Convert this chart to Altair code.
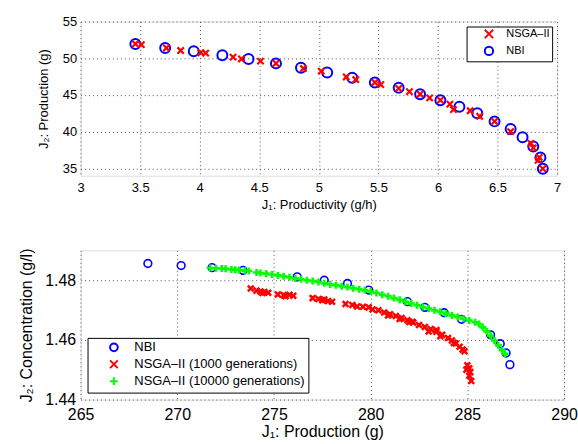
import altair as alt
import pandas as pd

# ---------------- top panel data ----------------
top_nbi_x = [3.46, 3.71, 3.95, 4.19, 4.41, 4.64, 4.85, 5.07, 5.28, 5.47, 5.67,
             5.85, 6.02, 6.18, 6.33, 6.475, 6.61, 6.71, 6.80, 6.86, 6.88]
top_nbi_y = [51.93, 51.4, 50.95, 50.4, 49.9, 49.3, 48.7, 48.07, 47.35, 46.7, 45.99,
             45.1, 44.28, 43.4, 42.5, 41.4, 40.36, 39.23, 37.97, 36.5, 34.96]

top_nsga_x = [3.46, 3.51, 3.72, 3.84, 4.01, 4.05, 4.28, 4.35, 4.51, 4.64, 4.87,
              5.02, 5.23, 5.31, 5.47, 5.52, 5.67, 5.76, 5.85, 5.93, 6.02, 6.10,
              6.13, 6.27, 6.35, 6.475, 6.61, 6.78, 6.80, 6.85, 6.84, 6.88]
top_nsga_y = [51.95, 51.85, 51.4, 51.05, 50.75, 50.7, 50.15, 49.9, 49.6, 49.3, 48.6,
              48.25, 47.45, 47.1, 46.7, 46.4, 45.9, 45.45, 45.1, 44.6, 44.3, 43.75,
              43.0, 42.85, 42.1, 41.4, 40.0, 38.4, 37.8, 36.5, 36.1, 34.96]

# ---------------- bottom panel data ----------------
bot_nbi_x = [268.48, 270.2, 271.8, 273.4, 276.2, 277.6, 278.8, 279.9, 281.9,
             282.8, 283.8, 284.7, 286.2, 286.7, 287.0, 287.2]
bot_nbi_y = [1.4856, 1.4849, 1.4842, 1.4833, 1.4811, 1.4800, 1.4789, 1.4767, 1.4728,
             1.4709, 1.4691, 1.4669, 1.4617, 1.4587, 1.4556, 1.4517]

bot_g1000_x = [273.8, 274.1, 274.3, 274.5, 274.7, 274.4, 275.2, 275.5, 275.8, 276.0,
               275.6, 277.0, 277.3, 277.6, 277.8, 278.0, 277.5, 278.7, 279.3, 279.6,
               279.9, 280.1, 280.4, 280.7, 281.0, 281.3, 281.6, 281.9, 282.2, 282.5,
               282.8, 283.1, 283.4, 283.7, 284.0, 284.2, 284.4, 284.6, 284.75, 284.85,
               285.0, 285.1, 284.95, 285.15, 285.1, 285.2, 280.9, 281.5, 282.0, 283.0,
               283.6, 284.3, 279.05, 282.15, 283.4]
bot_g1000_y = [1.4772, 1.4765, 1.4762, 1.4760, 1.4758, 1.4757, 1.4752, 1.4750, 1.4751, 1.4748,
               1.4746, 1.4740, 1.4737, 1.4735, 1.4730, 1.4728, 1.4733, 1.4720, 1.4712, 1.4711,
               1.4709, 1.4702, 1.4699, 1.4692, 1.4686, 1.4680, 1.4673, 1.4666, 1.4658, 1.4650,
               1.4643, 1.4636, 1.4627, 1.4617, 1.4606, 1.4598, 1.4588, 1.4577, 1.4568, 1.4562,
               1.4515, 1.4505, 1.4500, 1.4492, 1.4480, 1.4462, 1.4682, 1.4670, 1.4660, 1.4628,
               1.4612, 1.4590, 1.4717, 1.4661, 1.4633]

bot_g10000_x = [271.7, 272.0, 272.3, 272.5, 272.8, 273.0, 273.2, 273.5, 273.7, 274.1,
                274.3, 274.6, 274.9, 275.2, 275.5, 275.8, 276.1, 276.4, 276.7, 277.0,
                277.3, 277.6, 277.9, 278.2, 278.5, 278.8, 279.1, 279.4, 279.7, 280.0,
                280.3, 280.6, 280.9, 281.2, 281.5, 281.8, 282.1, 282.4, 282.7, 283.0,
                283.3, 283.6, 283.9, 284.2, 284.5, 284.8, 285.1, 285.4, 285.6, 285.8,
                286.0, 286.2, 286.4, 286.6, 286.8, 286.95]
bot_g10000_y = [1.4841, 1.4840, 1.4839, 1.4838, 1.4836, 1.4835, 1.4834, 1.4832, 1.4831, 1.4826,
                1.4824, 1.4822, 1.4819, 1.4816, 1.4813, 1.4810, 1.4806, 1.4803, 1.4800, 1.4797,
                1.4794, 1.4790, 1.4786, 1.4783, 1.4780, 1.4777, 1.4773, 1.4770, 1.4766, 1.4762,
                1.4757, 1.4751, 1.4746, 1.4740, 1.4734, 1.4728, 1.4722, 1.4716, 1.4710, 1.4705,
                1.4699, 1.4694, 1.4688, 1.4682, 1.4677, 1.4671, 1.4665, 1.4659, 1.4653, 1.4642,
                1.4628, 1.4614, 1.4598, 1.4582, 1.4565, 1.4553]

top_labels = ["NSGA\u2013II", "NBI"]
bot_labels = ["NBI", "NSGA\u2013II (1000 generations)", "NSGA\u2013II (10000 generations)"]

CIRCLE = "circle"
XSHAPE = "M-1,-1L1,1M-1,1L1,-1"
PLUS = "M-1,0L1,0M0,-1L0,1"
FONT = "Liberation Sans, DejaVu Sans, sans-serif"

top_nbi = pd.DataFrame({"x": top_nbi_x, "y": top_nbi_y, "s": top_labels[1]})
top_nsga = pd.DataFrame({"x": top_nsga_x, "y": top_nsga_y, "s": top_labels[0]})
bot_nbi = pd.DataFrame({"x": bot_nbi_x, "y": bot_nbi_y, "s": bot_labels[0]})
bot_r = pd.DataFrame({"x": bot_g1000_x, "y": bot_g1000_y, "s": bot_labels[1]})
bot_g = pd.DataFrame({"x": bot_g10000_x, "y": bot_g10000_y, "s": bot_labels[2]})

grid = dict(grid=True, gridColor="#555", gridDash=[1, 3], gridWidth=1, ticks=False,
            domain=False, labelColor="black", titleColor="black", labelFont=FONT,
            titleFont=FONT, titleFontWeight="normal", titleBaseline="middle",
            labelFlush=False, labelOverlap=False)

# ---------------- top chart ----------------
tx = alt.X("x:Q", scale=alt.Scale(domain=[3, 7], nice=False, zero=False),
           axis=alt.Axis(values=[3, 3.5, 4, 4.5, 5, 5.5, 6, 6.5, 7], format="~g",
                         title="J\u2081: Productivity (g/h)", labelFontSize=13,
                         titleFontSize=13, labelPadding=6, titleY=29, **grid))
ty = alt.Y("y:Q", scale=alt.Scale(domain=[34, 55], nice=False, zero=False),
           axis=alt.Axis(values=[35, 40, 45, 50, 55], title="J\u2082: Production (g)",
                         labelFontSize=13, titleFontSize=13, labelPadding=4,
                         titleX=-37, **grid))
tcolor = alt.Color("s:N", scale=alt.Scale(domain=top_labels, range=["#ff0000", "#0000ff"]),
                   legend=alt.Legend(title=None, orient="top-right", offset=5,
                                     strokeColor="black", fillColor="white", padding=2,
                                     symbolOffset=15, labelOffset=12, labelFontSize=11,
                                     labelFont=FONT, symbolSize=70, symbolStrokeWidth=2,
                                     rowPadding=0, labelLimit=400))
tshape = alt.Shape("s:N", scale=alt.Scale(domain=top_labels, range=[XSHAPE, CIRCLE]),
                   legend=alt.Legend(title=None, orient="top-right"))

top_c = alt.Chart(top_nbi).mark_point(filled=False, size=100, strokeWidth=2, opacity=1).encode(
    x=tx, y=ty, color=tcolor, shape=tshape)
top_r = alt.Chart(top_nsga).mark_point(filled=False, size=40, strokeWidth=2.2, opacity=1).encode(
    x=tx, y=ty, color=tcolor, shape=tshape)
top = alt.layer(top_c, top_r).properties(width=479, height=155)

# ---------------- bottom chart ----------------
bx = alt.X("x:Q", scale=alt.Scale(domain=[265, 290], nice=False, zero=False),
           axis=alt.Axis(values=[265, 270, 275, 280, 285, 290], title="J\u2081: Production (g)",
                         labelFontSize=16, titleFontSize=16, labelPadding=7,
                         titleY=32, **grid))
by = alt.Y("y:Q", scale=alt.Scale(domain=[1.44, 1.49], nice=False, zero=False),
           axis=alt.Axis(values=[1.44, 1.46, 1.48], format=".2f",
                         title="J\u2082: Concentration (g/l)", labelFontSize=16,
                         titleFontSize=16, labelPadding=5, titleX=-54, **grid))
bcolor = alt.Color("s:N", scale=alt.Scale(domain=bot_labels,
                                           range=["#0000ff", "#ff0000", "#00ff00"]),
                   legend=alt.Legend(title=None, orient="bottom-left", offset=7,
                                     strokeColor="black", fillColor="white", padding=3,
                                     symbolOffset=17, labelOffset=14, labelFontSize=13,
                                     labelFont=FONT, symbolSize=60, symbolStrokeWidth=2,
                                     rowPadding=0, labelLimit=400))
bshape = alt.Shape("s:N", scale=alt.Scale(domain=bot_labels, range=[CIRCLE, XSHAPE, PLUS]),
                   legend=alt.Legend(title=None, orient="bottom-left"))

b1 = alt.Chart(bot_nbi).mark_point(filled=False, size=60, strokeWidth=1.6, opacity=1).encode(
    x=bx, y=by, color=bcolor, shape=bshape)
b2 = alt.Chart(bot_r).mark_point(filled=False, size=34, strokeWidth=2.5, opacity=1).encode(
    x=bx, y=by, color=bcolor, shape=bshape)
b3 = alt.Chart(bot_g).mark_point(filled=False, size=50, strokeWidth=2.6, opacity=1).encode(
    x=bx, y=by, color=bcolor, shape=bshape)
bottom = alt.layer(b1, b2, b3).properties(width=486, height=150)

chart = alt.vconcat(top, bottom, spacing=75, bounds="flush").resolve_scale(
    color="independent", shape="independent", x="independent", y="independent"
).properties(
    padding={"left": 18, "top": 13.5, "right": 0, "bottom": 0}
).configure_view(stroke="black", strokeWidth=2).configure(
    font=FONT, background="white"
)

chart.save("out.html", embed_options={"renderer": "svg", "actions": False})
